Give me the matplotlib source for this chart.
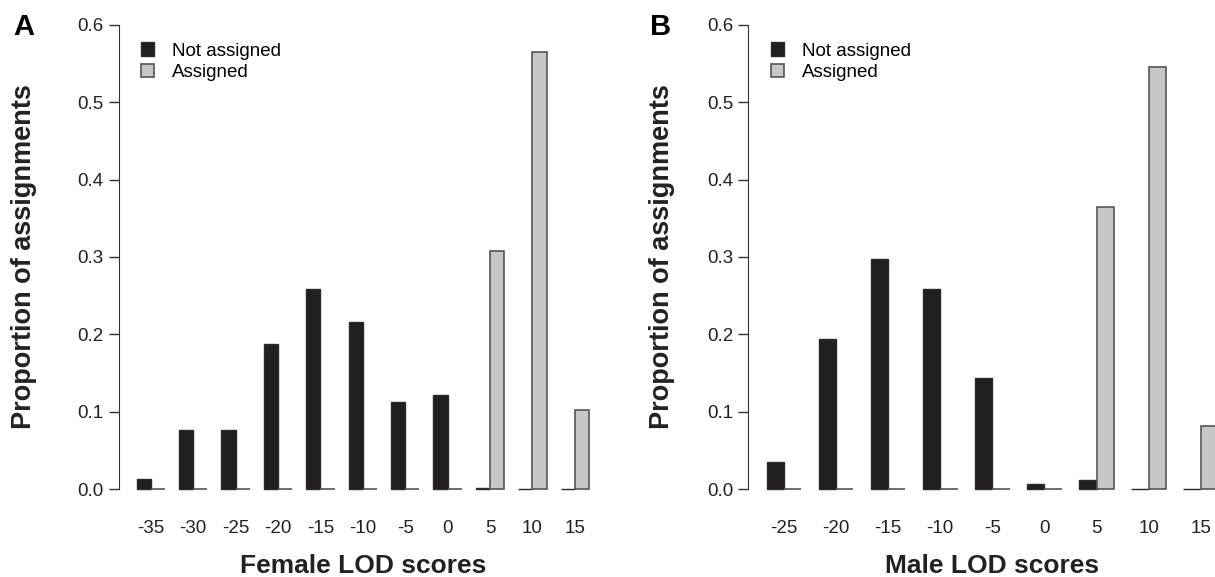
import numpy as np
import matplotlib.pyplot as plt

plt.rcParams['font.family'] = ['Liberation Sans', 'DejaVu Sans']

# panel A: female LOD scores
female_lod = ['-35', '-30', '-25', '-20', '-15', '-10', '-5', '0', '5', '10', '15']
female_not = [0.013, 0.076, 0.076, 0.1875, 0.258, 0.2155, 0.1125, 0.122, 0.001, 0.0, 0.0]
female_yes = [0.0, 0.0, 0.0, 0.0, 0.0, 0.0, 0.0, 0.0, 0.308, 0.565, 0.102]

# panel B: male LOD scores
male_lod = ['-25', '-20', '-15', '-10', '-5', '0', '5', '10', '15']
male_not = [0.035, 0.194, 0.298, 0.258, 0.143, 0.0065, 0.0116, 0.0, 0.0]
male_yes = [0.0, 0.0, 0.0, 0.0, 0.0, 0.0, 0.364, 0.546, 0.0815]

BLACK = '#231f20'
GREY = '#c6c7c8'


def panel(ax, labels, not_vals, yes_vals, xlabel):
    n = len(labels)
    left = 1 + 3 * np.arange(n)  # R barplot beside=TRUE layout
    b1 = ax.bar(left, not_vals, width=1, align='edge', color=BLACK,
                edgecolor='#2a2a2a', linewidth=1.0, label='Not assigned')
    b2 = ax.bar(left + 1, yes_vals, width=1, align='edge', color=GREY,
                edgecolor='#555555', linewidth=1.2, label='Assigned')
    span = 3 * n - 1
    ax.set_xlim(1 - 0.04 * span, 3 * n + 0.04 * span)
    ax.set_ylim(-0.024, 0.624)
    for s in ['top', 'right', 'bottom']:
        ax.spines[s].set_visible(False)
    ax.spines['left'].set_bounds(0, 0.6)
    ax.spines['left'].set_color('#333333')
    ax.set_yticks(np.arange(0, 0.61, 0.1))
    ax.set_yticklabels(['%.1f' % v for v in np.arange(0, 0.61, 0.1)])
    ax.tick_params(axis='y', length=7, width=1, color='#333333', pad=4,
                   labelsize=13.5, labelcolor='#222222')
    ax.set_xticks(left + 1)
    ax.set_xticklabels(labels)
    ax.tick_params(axis='x', length=0, pad=9, labelsize=13.5, labelcolor='#222222')
    ax.set_ylabel('Proportion of assignments', fontsize=19.5, fontweight='bold',
                  color='#222222')
    ax.set_xlabel(xlabel, fontsize=19, fontweight='bold', color='#222222')
    ax.xaxis.set_label_coords(0.5, -0.093)
    ax.legend(handles=[b1, b2], loc='upper left', bbox_to_anchor=(0.03, 0.943),
              frameon=False, fontsize=13.5, handlelength=0.7, handleheight=0.7,
              handletextpad=0.95, labelspacing=0.22, borderaxespad=0)
    return ax


fig = plt.figure(figsize=(12.15, 5.77), dpi=100)
axA = fig.add_axes([0.0976, 0.1203, 0.402, 0.8686])
axB = fig.add_axes([0.616, 0.1203, 0.4014, 0.8686])

panel(axA, female_lod, female_not, female_yes, 'Female LOD scores')
panel(axB, male_lod, male_not, male_yes, 'Male LOD scores')
axA.yaxis.set_label_coords(-0.167, 0.5)
axB.yaxis.set_label_coords(-0.151, 0.5)

fig.text(24 / 1215, 1 - 27 / 577, 'A', fontsize=21, fontweight='bold',
         ha='center', va='center')
fig.text(661 / 1215, 1 - 27 / 577, 'B', fontsize=21, fontweight='bold',
         ha='center', va='center')

fig.savefig('out.png', dpi=100)
